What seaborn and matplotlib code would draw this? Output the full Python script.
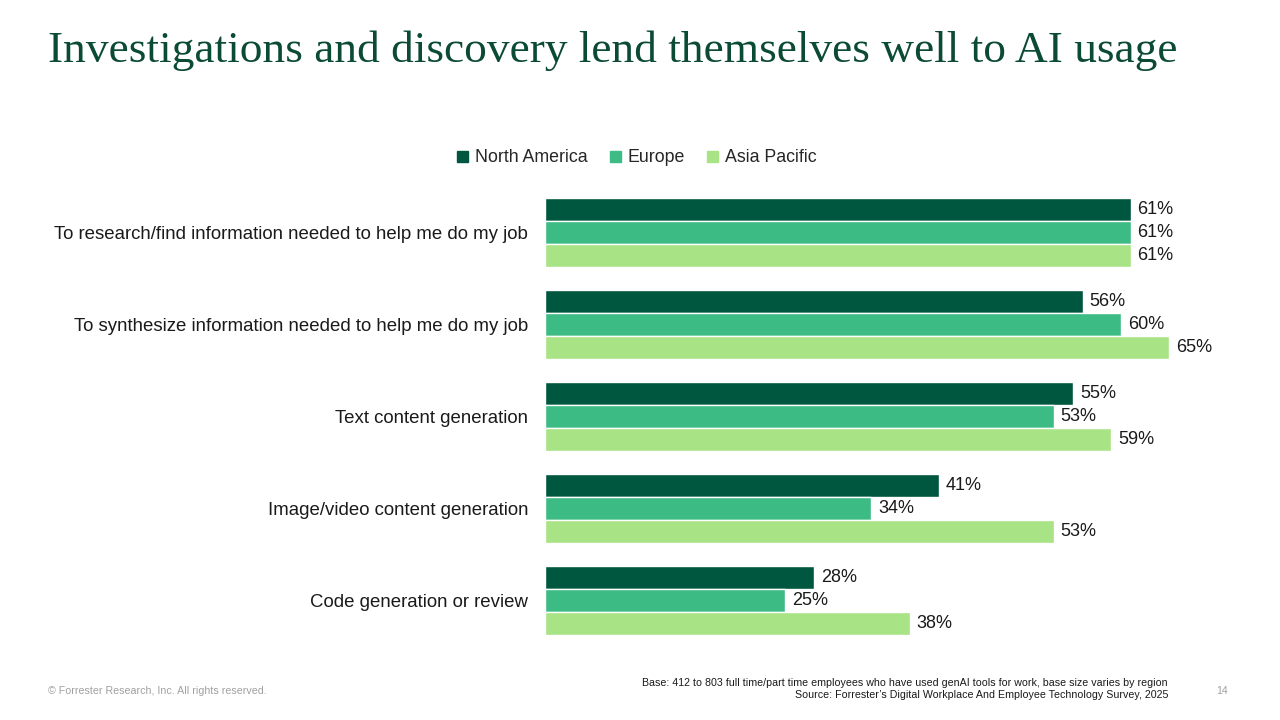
import matplotlib
matplotlib.use("Agg")
import matplotlib.pyplot as plt
import seaborn as sns
import pandas as pd

# data
categories = [
    "To research/find information needed to help me do my job",
    "To synthesize information needed to help me do my job",
    "Text content generation",
    "Image/video content generation",
    "Code generation or review",
]
regions = ["North America", "Europe", "Asia Pacific"]
north_america = [61, 56, 55, 41, 28]
europe = [61, 60, 53, 34, 25]
asia_pacific = [61, 65, 59, 53, 38]

colors = ["#00573F", "#3DBB84", "#A8E485"]

df = pd.DataFrame({
    "category": categories * 3,
    "region": [r for r in regions for _ in categories],
    "value": north_america + europe + asia_pacific,
})

sns.set_theme(style="white")
plt.rcParams["font.family"] = ["Liberation Sans", "DejaVu Sans"]

fig = plt.figure(figsize=(12.8, 7.2), dpi=100)
ax = fig.add_axes([545 / 1280, 1 - 647 / 720, 672 / 1280, 461 / 720])

sns.barplot(data=df, y="category", x="value", hue="region", order=categories,
            hue_order=regions, palette=colors, saturation=1, width=0.75, orient="h",
            edgecolor="white", linewidth=1, ax=ax, legend=False)

for cont in ax.containers:
    ax.bar_label(cont, labels=[f"{v:.0f}%" for v in cont.datavalues],
                 padding=5, fontsize=13, color="#1a1a1a")

ax.set_xlim(0, 70)
ax.set_xlabel("")
ax.set_ylabel("")
ax.set_xticks([])
ax.tick_params(axis="y", length=0, pad=12, labelsize=13.4, labelcolor="#1a1a1a")
for s in ax.spines.values():
    s.set_visible(False)

# legend
handles = [plt.Rectangle((0, 0), 1, 1, color=c) for c in colors]
fig.legend(handles, regions, loc="center", bbox_to_anchor=(637 / 1280, 1 - 158 / 720),
           ncol=3, frameon=False, fontsize=12.8, handlelength=0.6, handleheight=0.6,
           handletextpad=0.4, columnspacing=1.25)

fig.text(48 / 1280, 1 - 51 / 720, "Investigations and discovery lend themselves well to AI usage",
         family="Liberation Serif", fontsize=32.7, color="#0B4A35", va="center", ha="left")

fig.text(1168 / 1280, 1 - 683 / 720,
         "Base: 412 to 803 full time/part time employees who have used genAI tools for work, base size varies by region",
         fontsize=7.7, color="#1a1a1a", ha="right", va="center")
fig.text(1168 / 1280, 1 - 695 / 720,
         "Source: Forrester\u2019s Digital Workplace And Employee Technology Survey, 2025",
         fontsize=7.7, color="#1a1a1a", ha="right", va="center")
fig.text(48 / 1280, 1 - 691 / 720, "\u00a9 Forrester Research, Inc. All rights reserved.",
         fontsize=7.7, color="#A0A0A0", ha="left", va="center")
fig.text(1222 / 1280, 1 - 691 / 720, "14", fontsize=7.7, color="#A0A0A0", ha="center", va="center")

fig.savefig("out.png", dpi=100)
